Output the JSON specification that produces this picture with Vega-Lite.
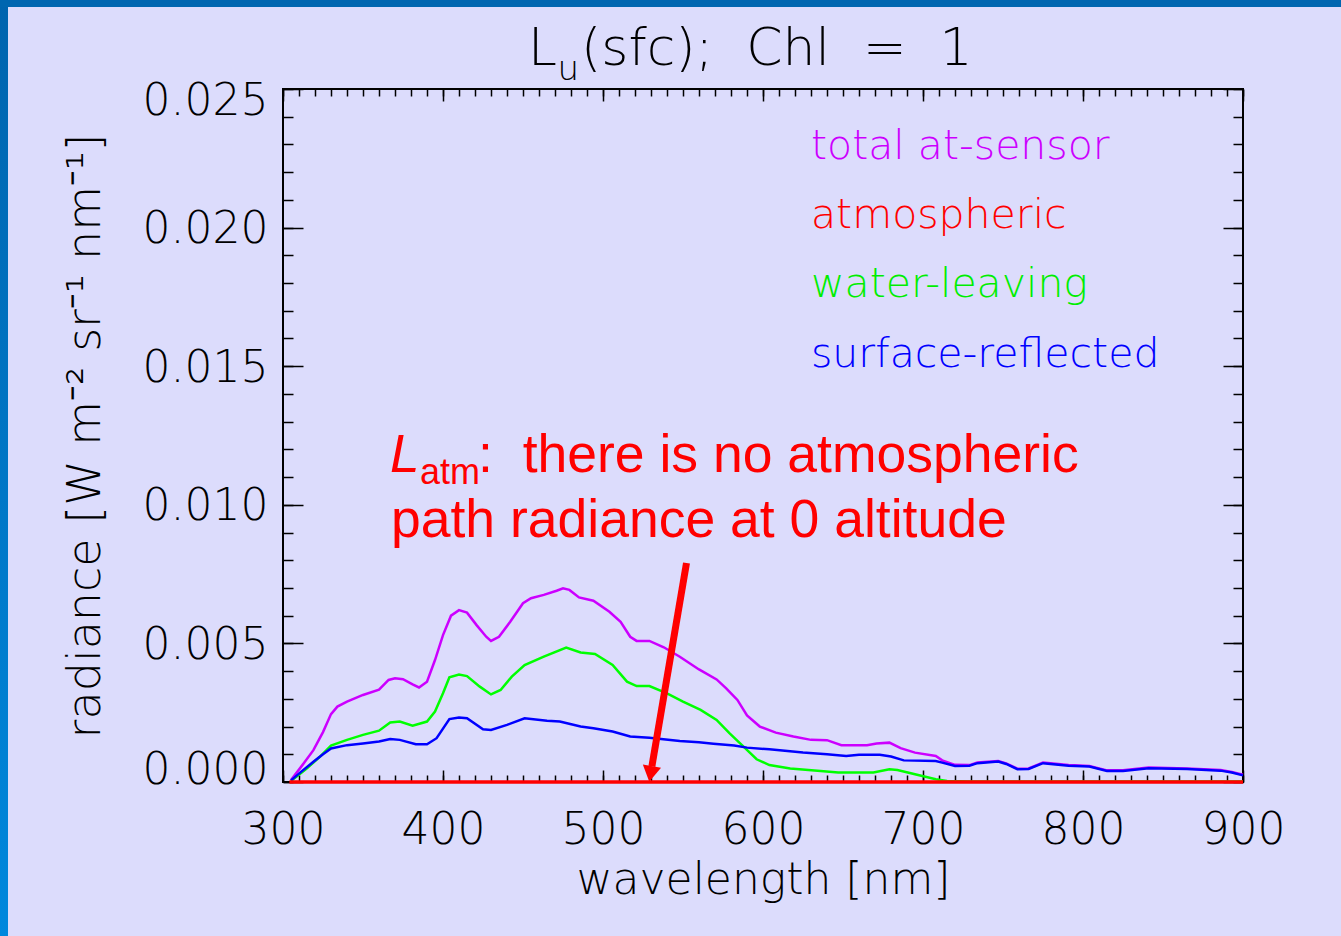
{
  "$schema": "https://vega.github.io/schema/vega-lite/v6.json",
  "width": 960,
  "height": 693,
  "autosize": {"type": "none"},
  "padding": {"left": 283, "top": 89, "right": 98, "bottom": 154},
  "background": "#dcdcfc",
  "config": {
    "view": {"stroke": "#000000", "strokeWidth": 2},
    "axis": {
      "domain": false,
      "grid": false,
      "labelFont": "DejaVu Sans",
      "titleFont": "DejaVu Sans",
      "labelColor": "#000000",
      "titleColor": "#000000",
      "tickColor": "#000000",
      "tickWidth": 1.5,
      "labelFontWeight": 200,
      "titleFontWeight": 200,
      "labelFontSize": 44,
      "titleFontSize": 44,
      "labelOverlap": false,
      "labelFlush": false
    }
  },
  "datasets": {
    "radiance": [
      {"wl": 305, "val": 0.00007, "series": "total at-sensor"},
      {"wl": 312, "val": 0.0006, "series": "total at-sensor"},
      {"wl": 319, "val": 0.00115, "series": "total at-sensor"},
      {"wl": 325, "val": 0.0018, "series": "total at-sensor"},
      {"wl": 330, "val": 0.00245, "series": "total at-sensor"},
      {"wl": 334, "val": 0.00272, "series": "total at-sensor"},
      {"wl": 340, "val": 0.0029, "series": "total at-sensor"},
      {"wl": 350, "val": 0.00314, "series": "total at-sensor"},
      {"wl": 360, "val": 0.00333, "series": "total at-sensor"},
      {"wl": 366, "val": 0.00368, "series": "total at-sensor"},
      {"wl": 370, "val": 0.00374, "series": "total at-sensor"},
      {"wl": 375, "val": 0.00371, "series": "total at-sensor"},
      {"wl": 381, "val": 0.00352, "series": "total at-sensor"},
      {"wl": 385, "val": 0.00341, "series": "total at-sensor"},
      {"wl": 390, "val": 0.00362, "series": "total at-sensor"},
      {"wl": 395, "val": 0.0044, "series": "total at-sensor"},
      {"wl": 400, "val": 0.0053, "series": "total at-sensor"},
      {"wl": 405, "val": 0.006, "series": "total at-sensor"},
      {"wl": 410, "val": 0.0062, "series": "total at-sensor"},
      {"wl": 415, "val": 0.00611, "series": "total at-sensor"},
      {"wl": 421, "val": 0.00566, "series": "total at-sensor"},
      {"wl": 427, "val": 0.00524, "series": "total at-sensor"},
      {"wl": 430, "val": 0.00509, "series": "total at-sensor"},
      {"wl": 435, "val": 0.00524, "series": "total at-sensor"},
      {"wl": 442, "val": 0.00578, "series": "total at-sensor"},
      {"wl": 450, "val": 0.00645, "series": "total at-sensor"},
      {"wl": 455, "val": 0.00663, "series": "total at-sensor"},
      {"wl": 463, "val": 0.00675, "series": "total at-sensor"},
      {"wl": 471, "val": 0.0069, "series": "total at-sensor"},
      {"wl": 475, "val": 0.00699, "series": "total at-sensor"},
      {"wl": 479, "val": 0.00693, "series": "total at-sensor"},
      {"wl": 485, "val": 0.00666, "series": "total at-sensor"},
      {"wl": 494, "val": 0.00654, "series": "total at-sensor"},
      {"wl": 504, "val": 0.00614, "series": "total at-sensor"},
      {"wl": 511, "val": 0.00578, "series": "total at-sensor"},
      {"wl": 517, "val": 0.00524, "series": "total at-sensor"},
      {"wl": 521, "val": 0.00509, "series": "total at-sensor"},
      {"wl": 529, "val": 0.00509, "series": "total at-sensor"},
      {"wl": 538, "val": 0.00486, "series": "total at-sensor"},
      {"wl": 548, "val": 0.00452, "series": "total at-sensor"},
      {"wl": 560, "val": 0.00406, "series": "total at-sensor"},
      {"wl": 571, "val": 0.0037, "series": "total at-sensor"},
      {"wl": 577, "val": 0.00338, "series": "total at-sensor"},
      {"wl": 584, "val": 0.00296, "series": "total at-sensor"},
      {"wl": 590, "val": 0.0024, "series": "total at-sensor"},
      {"wl": 598, "val": 0.002, "series": "total at-sensor"},
      {"wl": 608, "val": 0.00178, "series": "total at-sensor"},
      {"wl": 619, "val": 0.00164, "series": "total at-sensor"},
      {"wl": 630, "val": 0.00152, "series": "total at-sensor"},
      {"wl": 640, "val": 0.00151, "series": "total at-sensor"},
      {"wl": 649, "val": 0.00133, "series": "total at-sensor"},
      {"wl": 665, "val": 0.00133, "series": "total at-sensor"},
      {"wl": 671, "val": 0.00139, "series": "total at-sensor"},
      {"wl": 679, "val": 0.00142, "series": "total at-sensor"},
      {"wl": 686, "val": 0.00122, "series": "total at-sensor"},
      {"wl": 695, "val": 0.00106, "series": "total at-sensor"},
      {"wl": 708, "val": 0.00094, "series": "total at-sensor"},
      {"wl": 712, "val": 0.00078, "series": "total at-sensor"},
      {"wl": 720, "val": 0.00062, "series": "total at-sensor"},
      {"wl": 729, "val": 0.00061, "series": "total at-sensor"},
      {"wl": 734, "val": 0.0007, "series": "total at-sensor"},
      {"wl": 747, "val": 0.00076, "series": "total at-sensor"},
      {"wl": 752, "val": 0.00067, "series": "total at-sensor"},
      {"wl": 759, "val": 0.00048, "series": "total at-sensor"},
      {"wl": 766, "val": 0.00049, "series": "total at-sensor"},
      {"wl": 775, "val": 0.0007, "series": "total at-sensor"},
      {"wl": 791, "val": 0.00061, "series": "total at-sensor"},
      {"wl": 804, "val": 0.00058, "series": "total at-sensor"},
      {"wl": 815, "val": 0.00042, "series": "total at-sensor"},
      {"wl": 825, "val": 0.00042, "series": "total at-sensor"},
      {"wl": 841, "val": 0.00052, "series": "total at-sensor"},
      {"wl": 865, "val": 0.00049, "series": "total at-sensor"},
      {"wl": 886, "val": 0.00043, "series": "total at-sensor"},
      {"wl": 893, "val": 0.00036, "series": "total at-sensor"},
      {"wl": 900, "val": 0.00026, "series": "total at-sensor"},

      {"wl": 305, "val": 0.00004, "series": "water-leaving"},
      {"wl": 315, "val": 0.00049, "series": "water-leaving"},
      {"wl": 323, "val": 0.00091, "series": "water-leaving"},
      {"wl": 330, "val": 0.00131, "series": "water-leaving"},
      {"wl": 340, "val": 0.00152, "series": "water-leaving"},
      {"wl": 350, "val": 0.0017, "series": "water-leaving"},
      {"wl": 360, "val": 0.00185, "series": "water-leaving"},
      {"wl": 367, "val": 0.00215, "series": "water-leaving"},
      {"wl": 373, "val": 0.00218, "series": "water-leaving"},
      {"wl": 381, "val": 0.00203, "series": "water-leaving"},
      {"wl": 390, "val": 0.00218, "series": "water-leaving"},
      {"wl": 395, "val": 0.00254, "series": "water-leaving"},
      {"wl": 400, "val": 0.0032, "series": "water-leaving"},
      {"wl": 404, "val": 0.00378, "series": "water-leaving"},
      {"wl": 410, "val": 0.00388, "series": "water-leaving"},
      {"wl": 415, "val": 0.00382, "series": "water-leaving"},
      {"wl": 423, "val": 0.00344, "series": "water-leaving"},
      {"wl": 430, "val": 0.00316, "series": "water-leaving"},
      {"wl": 436, "val": 0.00332, "series": "water-leaving"},
      {"wl": 443, "val": 0.0038, "series": "water-leaving"},
      {"wl": 451, "val": 0.00422, "series": "water-leaving"},
      {"wl": 463, "val": 0.00452, "series": "water-leaving"},
      {"wl": 477, "val": 0.00485, "series": "water-leaving"},
      {"wl": 486, "val": 0.00467, "series": "water-leaving"},
      {"wl": 495, "val": 0.00462, "series": "water-leaving"},
      {"wl": 506, "val": 0.00422, "series": "water-leaving"},
      {"wl": 515, "val": 0.00362, "series": "water-leaving"},
      {"wl": 521, "val": 0.00346, "series": "water-leaving"},
      {"wl": 529, "val": 0.00346, "series": "water-leaving"},
      {"wl": 540, "val": 0.0032, "series": "water-leaving"},
      {"wl": 550, "val": 0.0029, "series": "water-leaving"},
      {"wl": 561, "val": 0.0026, "series": "water-leaving"},
      {"wl": 571, "val": 0.00224, "series": "water-leaving"},
      {"wl": 579, "val": 0.00176, "series": "water-leaving"},
      {"wl": 588, "val": 0.00127, "series": "water-leaving"},
      {"wl": 596, "val": 0.00082, "series": "water-leaving"},
      {"wl": 604, "val": 0.00061, "series": "water-leaving"},
      {"wl": 617, "val": 0.00049, "series": "water-leaving"},
      {"wl": 636, "val": 0.0004, "series": "water-leaving"},
      {"wl": 647, "val": 0.00034, "series": "water-leaving"},
      {"wl": 669, "val": 0.00034, "series": "water-leaving"},
      {"wl": 679, "val": 0.00046, "series": "water-leaving"},
      {"wl": 684, "val": 0.00043, "series": "water-leaving"},
      {"wl": 695, "val": 0.00028, "series": "water-leaving"},
      {"wl": 708, "val": 0.0001, "series": "water-leaving"},
      {"wl": 715, "val": 0.00004, "series": "water-leaving"},
      {"wl": 730, "val": 0.00002, "series": "water-leaving"},
      {"wl": 900, "val": 0.00002, "series": "water-leaving"},

      {"wl": 305, "val": 0.00006, "series": "surface-reflected"},
      {"wl": 312, "val": 0.0004, "series": "surface-reflected"},
      {"wl": 319, "val": 0.00073, "series": "surface-reflected"},
      {"wl": 325, "val": 0.001, "series": "surface-reflected"},
      {"wl": 330, "val": 0.00121, "series": "surface-reflected"},
      {"wl": 340, "val": 0.00133, "series": "surface-reflected"},
      {"wl": 350, "val": 0.00139, "series": "surface-reflected"},
      {"wl": 360, "val": 0.00146, "series": "surface-reflected"},
      {"wl": 367, "val": 0.00155, "series": "surface-reflected"},
      {"wl": 373, "val": 0.00152, "series": "surface-reflected"},
      {"wl": 383, "val": 0.00136, "series": "surface-reflected"},
      {"wl": 390, "val": 0.00136, "series": "surface-reflected"},
      {"wl": 396, "val": 0.00158, "series": "surface-reflected"},
      {"wl": 404, "val": 0.00227, "series": "surface-reflected"},
      {"wl": 410, "val": 0.00233, "series": "surface-reflected"},
      {"wl": 415, "val": 0.0023, "series": "surface-reflected"},
      {"wl": 425, "val": 0.0019, "series": "surface-reflected"},
      {"wl": 430, "val": 0.00188, "series": "surface-reflected"},
      {"wl": 440, "val": 0.00206, "series": "surface-reflected"},
      {"wl": 451, "val": 0.0023, "series": "surface-reflected"},
      {"wl": 465, "val": 0.00221, "series": "surface-reflected"},
      {"wl": 473, "val": 0.00218, "series": "surface-reflected"},
      {"wl": 486, "val": 0.002, "series": "surface-reflected"},
      {"wl": 494, "val": 0.00194, "series": "surface-reflected"},
      {"wl": 506, "val": 0.00182, "series": "surface-reflected"},
      {"wl": 517, "val": 0.00164, "series": "surface-reflected"},
      {"wl": 529, "val": 0.0016, "series": "surface-reflected"},
      {"wl": 548, "val": 0.00148, "series": "surface-reflected"},
      {"wl": 560, "val": 0.00143, "series": "surface-reflected"},
      {"wl": 569, "val": 0.00138, "series": "surface-reflected"},
      {"wl": 582, "val": 0.00132, "series": "surface-reflected"},
      {"wl": 590, "val": 0.00124, "series": "surface-reflected"},
      {"wl": 604, "val": 0.00118, "series": "surface-reflected"},
      {"wl": 625, "val": 0.00106, "series": "surface-reflected"},
      {"wl": 640, "val": 0.001, "series": "surface-reflected"},
      {"wl": 652, "val": 0.00094, "series": "surface-reflected"},
      {"wl": 660, "val": 0.00098, "series": "surface-reflected"},
      {"wl": 673, "val": 0.00098, "series": "surface-reflected"},
      {"wl": 680, "val": 0.00092, "series": "surface-reflected"},
      {"wl": 688, "val": 0.00078, "series": "surface-reflected"},
      {"wl": 708, "val": 0.00076, "series": "surface-reflected"},
      {"wl": 712, "val": 0.0007, "series": "surface-reflected"},
      {"wl": 720, "val": 0.00058, "series": "surface-reflected"},
      {"wl": 729, "val": 0.00059, "series": "surface-reflected"},
      {"wl": 734, "val": 0.00068, "series": "surface-reflected"},
      {"wl": 747, "val": 0.00074, "series": "surface-reflected"},
      {"wl": 752, "val": 0.00065, "series": "surface-reflected"},
      {"wl": 759, "val": 0.00046, "series": "surface-reflected"},
      {"wl": 766, "val": 0.00047, "series": "surface-reflected"},
      {"wl": 775, "val": 0.00068, "series": "surface-reflected"},
      {"wl": 791, "val": 0.00059, "series": "surface-reflected"},
      {"wl": 804, "val": 0.00056, "series": "surface-reflected"},
      {"wl": 815, "val": 0.0004, "series": "surface-reflected"},
      {"wl": 825, "val": 0.0004, "series": "surface-reflected"},
      {"wl": 841, "val": 0.0005, "series": "surface-reflected"},
      {"wl": 865, "val": 0.00047, "series": "surface-reflected"},
      {"wl": 886, "val": 0.00041, "series": "surface-reflected"},
      {"wl": 893, "val": 0.00034, "series": "surface-reflected"},
      {"wl": 900, "val": 0.00024, "series": "surface-reflected"}
    ],
    "atm": [
      {"wl": 304, "val": 0, "series": "atmospheric"},
      {"wl": 900, "val": 0, "series": "atmospheric"}
    ]
  },
  "resolve": {"axis": {"x": "independent", "y": "independent"}},
  "layer": [
    {
      "data": {"values": [{}]},
      "mark": {"type": "rect", "color": {"gradient": "linear", "x1": 0, "y1": 0, "x2": 0, "y2": 1, "stops": [{"offset": 0, "color": "#0064ae"}, {"offset": 1, "color": "#0088dd"}]}},
      "encoding": {
        "x": {"datum": 100, "type": "quantitative", "scale": {"domain": [300, 900], "nice": false, "zero": false}, "axis": null},
        "x2": {"datum": 128.125},
        "y": {"datum": 0.0283, "type": "quantitative", "scale": {"domain": [0, 0.025], "nice": false, "zero": false}, "axis": null},
        "y2": {"datum": -0.0056}
      }
    },
    {
      "data": {"values": [{}]},
      "mark": {"type": "rect", "color": "#0066b0"},
      "encoding": {
        "x": {"datum": 100, "type": "quantitative", "scale": {"domain": [300, 900], "nice": false, "zero": false}, "axis": null},
        "x2": {"datum": 1000},
        "y": {"datum": 0.0283, "type": "quantitative", "scale": {"domain": [0, 0.025], "nice": false, "zero": false}, "axis": null},
        "y2": {"datum": 0.027958}
      }
    },
    {
      "data": {"name": "radiance"},
      "mark": {"type": "line", "strokeWidth": 2.5},
      "encoding": {
        "x": {"field": "wl", "type": "quantitative", "scale": {"domain": [300, 900], "nice": false, "zero": false},
              "axis": {"orient": "bottom", "values": [300, 400, 500, 600, 700, 800, 900], "ticks": false, "labelPadding": 26, "title": "wavelength [nm]", "titlePadding": 6}},
        "y": {"field": "val", "type": "quantitative", "scale": {"domain": [0, 0.025], "nice": false, "zero": false},
              "axis": {"orient": "left", "values": [0, 0.005, 0.01, 0.015, 0.02, 0.025], "format": ".3f", "ticks": false, "labelPadding": 15,
                       "labelOffset": {"condition": [{"test": "datum.value < 0.0001", "value": -12}, {"test": "datum.value > 0.0249", "value": 12}], "value": 2},
                       "title": "radiance [W m⁻² sr⁻¹ nm⁻¹]", "titleFontSize": 46, "titlePadding": 33}},
        "color": {"field": "series", "type": "nominal", "scale": {"domain": ["total at-sensor", "water-leaving", "surface-reflected", "atmospheric"], "range": ["#cc00ff", "#00ff00", "#0000ff", "#ff0000"]}, "legend": null}
      }
    },
    {
      "data": {"name": "atm"},
      "mark": {"type": "line", "strokeWidth": 3.5, "color": "#ff0000"},
      "encoding": {
        "x": {"field": "wl", "type": "quantitative", "scale": {"domain": [300, 900], "nice": false, "zero": false}, "axis": null},
        "y": {"field": "val", "type": "quantitative", "scale": {"domain": [0, 0.025], "nice": false, "zero": false}, "axis": null}
      }
    },
    {
      "data": {"values": [{"wl": 300, "val": 0}]},
      "mark": {"type": "point", "opacity": 0},
      "encoding": {
        "x": {"field": "wl", "type": "quantitative", "scale": {"domain": [300, 900], "nice": false, "zero": false},
              "axis": {"orient": "bottom", "values": [300, 400, 500, 600, 700, 800, 900], "labels": false, "title": null, "tickSize": -12}},
        "y": {"field": "val", "type": "quantitative", "scale": {"domain": [0, 0.025], "nice": false, "zero": false},
              "axis": {"orient": "left", "values": [0, 0.005, 0.01, 0.015, 0.02, 0.025], "labels": false, "title": null, "tickSize": -20}}
      }
    },
    {
      "data": {"values": [{"wl": 300, "val": 0}]},
      "mark": {"type": "point", "opacity": 0},
      "encoding": {
        "x": {"field": "wl", "type": "quantitative", "scale": {"domain": [300, 900], "nice": false, "zero": false},
              "axis": {"orient": "bottom", "values": [300, 310, 320, 330, 340, 350, 360, 370, 380, 390, 400, 410, 420, 430, 440, 450, 460, 470, 480, 490, 500, 510, 520, 530, 540, 550, 560, 570, 580, 590, 600, 610, 620, 630, 640, 650, 660, 670, 680, 690, 700, 710, 720, 730, 740, 750, 760, 770, 780, 790, 800, 810, 820, 830, 840, 850, 860, 870, 880, 890, 900], "labels": false, "title": null, "tickSize": -7}},
        "y": {"field": "val", "type": "quantitative", "scale": {"domain": [0, 0.025], "nice": false, "zero": false},
              "axis": {"orient": "left", "values": [0, 0.001, 0.002, 0.003, 0.004, 0.005, 0.006, 0.007, 0.008, 0.009, 0.01, 0.011, 0.012, 0.013, 0.014, 0.015, 0.016, 0.017, 0.018, 0.019, 0.02, 0.021, 0.022, 0.023, 0.024, 0.025], "labels": false, "title": null, "tickSize": -10}}
      }
    },
    {
      "data": {"values": [{"wl": 300, "val": 0}]},
      "mark": {"type": "point", "opacity": 0},
      "encoding": {
        "x": {"field": "wl", "type": "quantitative", "scale": {"domain": [300, 900], "nice": false, "zero": false},
              "axis": {"orient": "top", "values": [300, 400, 500, 600, 700, 800, 900], "labels": false, "title": null, "tickSize": -12}},
        "y": {"field": "val", "type": "quantitative", "scale": {"domain": [0, 0.025], "nice": false, "zero": false},
              "axis": {"orient": "right", "values": [0, 0.005, 0.01, 0.015, 0.02, 0.025], "labels": false, "title": null, "tickSize": -20}}
      }
    },
    {
      "data": {"values": [{"wl": 300, "val": 0}]},
      "mark": {"type": "point", "opacity": 0},
      "encoding": {
        "x": {"field": "wl", "type": "quantitative", "scale": {"domain": [300, 900], "nice": false, "zero": false},
              "axis": {"orient": "top", "values": [300, 310, 320, 330, 340, 350, 360, 370, 380, 390, 400, 410, 420, 430, 440, 450, 460, 470, 480, 490, 500, 510, 520, 530, 540, 550, 560, 570, 580, 590, 600, 610, 620, 630, 640, 650, 660, 670, 680, 690, 700, 710, 720, 730, 740, 750, 760, 770, 780, 790, 800, 810, 820, 830, 840, 850, 860, 870, 880, 890, 900], "labels": false, "title": null, "tickSize": -7}},
        "y": {"field": "val", "type": "quantitative", "scale": {"domain": [0, 0.025], "nice": false, "zero": false},
              "axis": {"orient": "right", "values": [0, 0.001, 0.002, 0.003, 0.004, 0.005, 0.006, 0.007, 0.008, 0.009, 0.01, 0.011, 0.012, 0.013, 0.014, 0.015, 0.016, 0.017, 0.018, 0.019, 0.02, 0.021, 0.022, 0.023, 0.024, 0.025], "labels": false, "title": null, "tickSize": -10}}
      }
    },
    {
      "data": {"values": [{}]},
      "mark": {"type": "text", "text": "L", "font": "DejaVu Sans", "fontSize": 52, "fontWeight": 200, "align": "left", "baseline": "alphabetic", "color": "#000000"},
      "encoding": {
        "x": {"datum": 453.1, "type": "quantitative", "scale": {"domain": [300, 900], "nice": false, "zero": false}, "axis": null},
        "y": {"datum": 0.025866, "type": "quantitative", "scale": {"domain": [0, 0.025], "nice": false, "zero": false}, "axis": null}
      }
    },
    {
      "data": {"values": [{}]},
      "mark": {"type": "text", "text": "u", "font": "DejaVu Sans", "fontSize": 34, "fontWeight": 200, "align": "left", "baseline": "alphabetic", "color": "#000000"},
      "encoding": {
        "x": {"datum": 471.5, "type": "quantitative", "scale": {"domain": [300, 900], "nice": false, "zero": false}, "axis": null},
        "y": {"datum": 0.025325, "type": "quantitative", "scale": {"domain": [0, 0.025], "nice": false, "zero": false}, "axis": null}
      }
    },
    {
      "data": {"values": [{}]},
      "mark": {"type": "text", "text": "(sfc);\u00a0\u00a0Chl\u00a0\u00a0=\u00a0\u00a01", "font": "DejaVu Sans", "fontSize": 52, "fontWeight": 200, "align": "left", "baseline": "alphabetic", "color": "#000000"},
      "encoding": {
        "x": {"datum": 486.25, "type": "quantitative", "scale": {"domain": [300, 900], "nice": false, "zero": false}, "axis": null},
        "y": {"datum": 0.025866, "type": "quantitative", "scale": {"domain": [0, 0.025], "nice": false, "zero": false}, "axis": null}
      }
    },
    {
      "data": {"values": [{}]},
      "mark": {"type": "text", "text": "total at-sensor", "font": "DejaVu Sans", "fontSize": 41, "fontWeight": 200, "align": "left", "baseline": "alphabetic", "color": "#cc00ff"},
      "encoding": {
        "x": {"datum": 630, "type": "quantitative", "scale": {"domain": [300, 900], "nice": false, "zero": false}, "axis": null},
        "y": {"datum": 0.022475, "type": "quantitative", "scale": {"domain": [0, 0.025], "nice": false, "zero": false}, "axis": null}
      }
    },
    {
      "data": {"values": [{}]},
      "mark": {"type": "text", "text": "atmospheric", "font": "DejaVu Sans", "fontSize": 41, "fontWeight": 200, "align": "left", "baseline": "alphabetic", "color": "#ff0000"},
      "encoding": {
        "x": {"datum": 630, "type": "quantitative", "scale": {"domain": [300, 900], "nice": false, "zero": false}, "axis": null},
        "y": {"datum": 0.019986, "type": "quantitative", "scale": {"domain": [0, 0.025], "nice": false, "zero": false}, "axis": null}
      }
    },
    {
      "data": {"values": [{}]},
      "mark": {"type": "text", "text": "water-leaving", "font": "DejaVu Sans", "fontSize": 41, "fontWeight": 200, "align": "left", "baseline": "alphabetic", "color": "#00ee00"},
      "encoding": {
        "x": {"datum": 630, "type": "quantitative", "scale": {"domain": [300, 900], "nice": false, "zero": false}, "axis": null},
        "y": {"datum": 0.017496, "type": "quantitative", "scale": {"domain": [0, 0.025], "nice": false, "zero": false}, "axis": null}
      }
    },
    {
      "data": {"values": [{}]},
      "mark": {"type": "text", "text": "surface-reflected", "font": "DejaVu Sans", "fontSize": 41, "fontWeight": 200, "align": "left", "baseline": "alphabetic", "color": "#0000ff"},
      "encoding": {
        "x": {"datum": 630, "type": "quantitative", "scale": {"domain": [300, 900], "nice": false, "zero": false}, "axis": null},
        "y": {"datum": 0.014971, "type": "quantitative", "scale": {"domain": [0, 0.025], "nice": false, "zero": false}, "axis": null}
      }
    },
    {
      "data": {"values": [{}]},
      "mark": {"type": "text", "text": "L", "font": "Liberation Sans", "fontStyle": "italic", "fontSize": 53, "align": "left", "baseline": "alphabetic", "color": "#ff0000"},
      "encoding": {
        "x": {"datum": 366.9, "type": "quantitative", "scale": {"domain": [300, 900], "nice": false, "zero": false}, "axis": null},
        "y": {"datum": 0.011201, "type": "quantitative", "scale": {"domain": [0, 0.025], "nice": false, "zero": false}, "axis": null}
      }
    },
    {
      "data": {"values": [{}]},
      "mark": {"type": "text", "text": "atm", "font": "Liberation Sans", "fontSize": 36, "align": "left", "baseline": "alphabetic", "color": "#ff0000"},
      "encoding": {
        "x": {"datum": 385.6, "type": "quantitative", "scale": {"domain": [300, 900], "nice": false, "zero": false}, "axis": null},
        "y": {"datum": 0.01075, "type": "quantitative", "scale": {"domain": [0, 0.025], "nice": false, "zero": false}, "axis": null}
      }
    },
    {
      "data": {"values": [{}]},
      "mark": {"type": "text", "text": ":\u00a0\u00a0there is no atmospheric", "font": "Liberation Sans", "fontSize": 53.5, "align": "left", "baseline": "alphabetic", "color": "#ff0000"},
      "encoding": {
        "x": {"datum": 421.9, "type": "quantitative", "scale": {"domain": [300, 900], "nice": false, "zero": false}, "axis": null},
        "y": {"datum": 0.011201, "type": "quantitative", "scale": {"domain": [0, 0.025], "nice": false, "zero": false}, "axis": null}
      }
    },
    {
      "data": {"values": [{}]},
      "mark": {"type": "text", "text": "path radiance at 0 altitude", "font": "Liberation Sans", "fontSize": 53.5, "align": "left", "baseline": "alphabetic", "color": "#ff0000"},
      "encoding": {
        "x": {"datum": 367.5, "type": "quantitative", "scale": {"domain": [300, 900], "nice": false, "zero": false}, "axis": null},
        "y": {"datum": 0.008856, "type": "quantitative", "scale": {"domain": [0, 0.025], "nice": false, "zero": false}, "axis": null}
      }
    },
    {
      "data": {"values": [{}]},
      "mark": {"type": "rule", "strokeWidth": 7, "color": "#ff0000", "strokeCap": "butt"},
      "encoding": {
        "x": {"datum": 552.19, "type": "quantitative", "scale": {"domain": [300, 900], "nice": false, "zero": false}, "axis": null},
        "y": {"datum": 0.0079, "type": "quantitative", "scale": {"domain": [0, 0.025], "nice": false, "zero": false}, "axis": null},
        "x2": {"datum": 530.56},
        "y2": {"datum": 0.000566}
      }
    },
    {
      "data": {"values": [{}]},
      "mark": {"type": "point", "shape": "triangle-down", "size": 340, "angle": 9.65, "filled": true, "opacity": 1, "color": "#ff0000"},
      "encoding": {
        "x": {"datum": 529.75, "type": "quantitative", "scale": {"domain": [300, 900], "nice": false, "zero": false}, "axis": null},
        "y": {"datum": 0.000289, "type": "quantitative", "scale": {"domain": [0, 0.025], "nice": false, "zero": false}, "axis": null}
      }
    }
  ]
}
